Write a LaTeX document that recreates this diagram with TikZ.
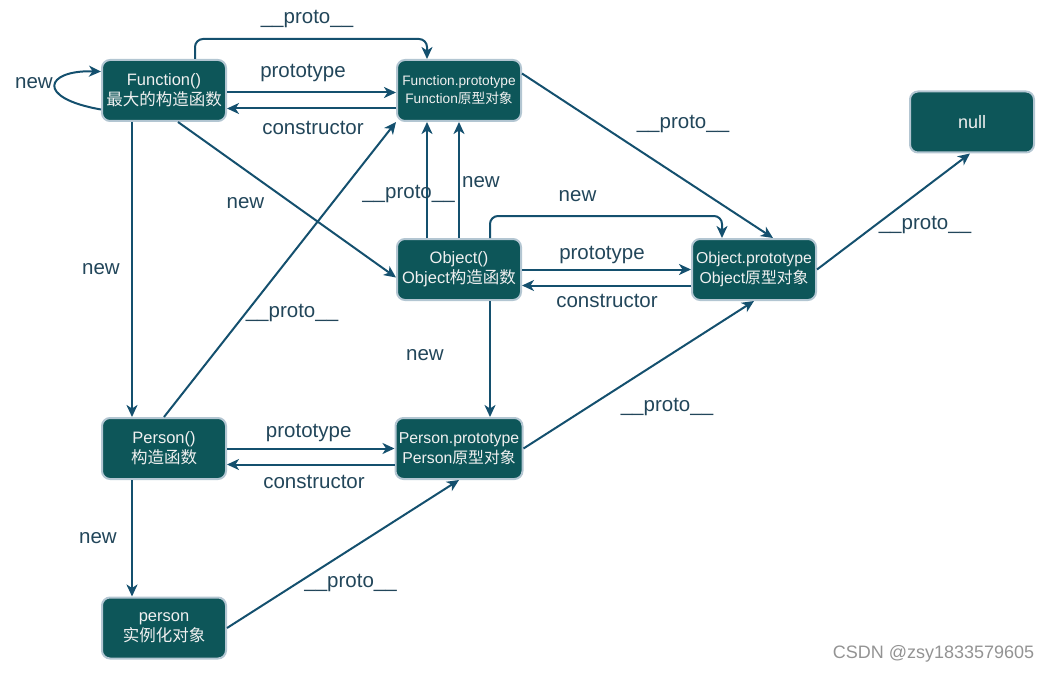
\documentclass[tikz,border=0pt]{standalone}
\usepackage{fontspec}
\setmainfont{Liberation Sans}
\newfontfamily\cjk{Noto Sans CJK SC}
\usetikzlibrary{arrows.meta}

\definecolor{boxfill}{HTML}{0D5659}
\definecolor{boxline}{HTML}{B3C6D2}
\definecolor{linkcol}{HTML}{14506E}
\definecolor{lblcol}{HTML}{22465A}

\tikzset{
	obj/.style={draw=boxline, line width=2pt, fill=boxfill, rounded corners=8pt,
		minimum width=124pt, minimum height=61pt, align=center, text=white!94!black,
		font=\fontsize{16.5}{20}\selectfont},
	edge/.style={draw=linkcol, line width=2pt,
		-{Stealth[length=12pt,width=11pt,inset=3.5pt]}},
	lbl/.style={text=lblcol, font=\fontsize{20.5}{24}\selectfont, inner sep=0pt}
}

\begin{document}
\begin{tikzpicture}[x=1pt,y=-1pt]
		\useasboundingbox (0,0) rectangle (1052,674);
		
		% boxes
		\node [obj] (func) at (164,90.5) {Function()\\{\cjk 最大的构造函数}};
		\node [obj, font=\fontsize{13.7}{18}\selectfont] (fp) at (459,90.5) {Function.prototype\\Function{\cjk 原型对象}};
		\node [obj, font=\fontsize{18}{20}\selectfont] (null) at (972,122) {null};
		\node [obj] (obj) at (459,269.5) {Object()\\Object{\cjk 构造函数}};
		\node [obj, font=\fontsize{15.8}{20}\selectfont] (op) at (754,269.5) {Object.prototype\\Object{\cjk 原型对象}};
		\node [obj] (per) at (164,448.5) {Person()\\{\cjk 构造函数}};
		\node [obj, font=\fontsize{15.8}{20}\selectfont] (pp) at (459,448.5) {Person.prototype\\Person{\cjk 原型对象}};
		\node [obj] (ps) at (164,628) {person\\{\cjk 实例化对象}};
		
		% Function()
		\draw [edge] ([yshift=-19pt]func.west) .. controls (35,98) and (45,70) .. ([yshift=19pt]func.west);
		\draw [edge, rounded corners=8pt] ([xshift=31pt]func.north) -- ++(0,-20) -| ([xshift=-32pt]fp.north);
		\draw [edge] ([yshift=-2pt]func.east) -- ([yshift=-2pt]fp.west);
		\draw [edge] ([yshift=-18pt]fp.west) -- ([yshift=-18pt]func.east);
		\draw [edge] ([xshift=14pt]func.south) -- ([yshift=-8pt]obj.west);
		\draw [edge] ([xshift=-32pt]func.south) -- ([xshift=-32pt]per.north);
		
		% Object()
		\draw [edge] ([xshift=-32pt]obj.north) -- ([xshift=-32pt]fp.south);
		\draw [edge] (obj.north) -- (fp.south);
		\draw [edge, rounded corners=8pt] ([xshift=31pt]obj.north) -- ++(0,-22) -| ([xshift=-32pt]op.north);
		\draw [edge] (obj.east) -- (op.west);
		\draw [edge] ([yshift=-16pt]op.west) -- ([yshift=-16pt]obj.east);
		\draw [edge] ([xshift=31pt]obj.south) -- ([xshift=31pt]pp.north);
		
		% prototypes
		\draw [edge] ([yshift=17pt]fp.east) -- ([xshift=19pt]op.north);
		\draw [edge] (op.east) -- ([xshift=-2pt]null.south);
		
		% Person()
		\draw [edge] (per.north) -- (fp.south west);
		\draw [edge] (per.east) -- (pp.west);
		\draw [edge] ([yshift=-16pt]pp.west) -- ([yshift=-16pt]per.east);
		\draw [edge] (pp.east) -- (op.south);
		\draw [edge] ([xshift=-32pt]per.south) -- ([xshift=-32pt]ps.north);
		\draw [edge] (ps.east) -- (pp.south);
		
		% labels
		\node [lbl] (l1) at (34,83) {new};
		\node [lbl] (l2) at (307,19) {\_\_proto\_\_};
		\node [lbl] (l3) at (303,73) {prototype};
		\node [lbl] (l4) at (313,127.5) {constructor};
		\node [lbl] (l5) at (245.5,203) {new};
		\node [lbl] (l6) at (101,269) {new};
		\node [lbl] (l7) at (292,313) {\_\_proto\_\_};
		\node [lbl] (l8) at (408.5,194) {\_\_proto\_\_};
		\node [lbl] (l9) at (481,182) {new};
		\node [lbl] (l10) at (577.5,196.5) {new};
		\node [lbl] (l11) at (602,255) {prototype};
		\node [lbl] (l12) at (607,301) {constructor};
		\node [lbl] (l13) at (683,124) {\_\_proto\_\_};
		\node [lbl] (l14) at (925,224.5) {\_\_proto\_\_};
		\node [lbl] (l15) at (425,355) {new};
		\node [lbl] (l16) at (308.7,433.4) {prototype};
		\node [lbl] (l17) at (314,481.7) {constructor};
		\node [lbl] (l18) at (667,407) {\_\_proto\_\_};
		\node [lbl] (l19) at (98,538.3) {new};
		\node [lbl] (l20) at (350.6,583) {\_\_proto\_\_};
		
		\node [text=gray!85, font=\fontsize{18}{22}\selectfont, inner sep=0pt] (mark) at (933.5,654) {CSDN @zsy1833579605};
		\end{tikzpicture}
\end{document}
